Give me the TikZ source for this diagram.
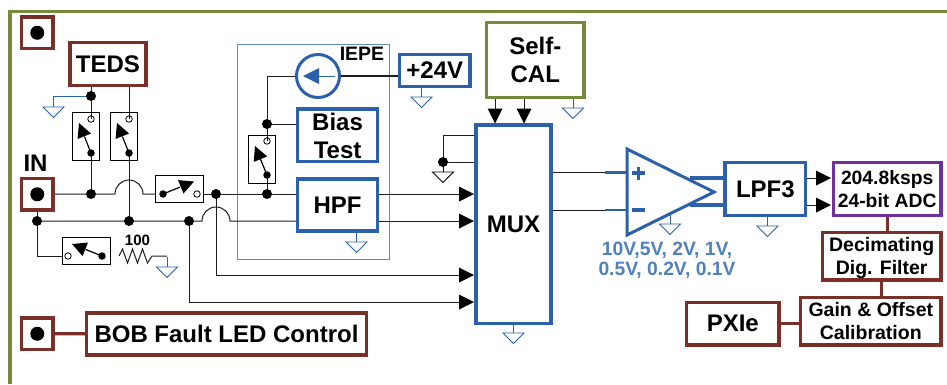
\documentclass[tikz,border=0pt]{standalone}
\usepackage{fontspec}
\setmainfont{Liberation Sans}
\usetikzlibrary{calc}
\definecolor{cbrown}{RGB}{122,48,40}
\definecolor{cblue}{RGB}{43,97,170}
\definecolor{cgreen}{RGB}{118,138,60}
\definecolor{cpurple}{RGB}{112,48,160}
\definecolor{clabel}{RGB}{79,129,189}
\definecolor{cwire}{RGB}{30,30,30}
\tikzset{
 x=1pt,y=-1pt,
 wire/.style={draw=cwire,line width=1pt},
 blk/.style={rectangle,draw,line width=3.2pt,fill=white,inner sep=0pt,outer sep=0pt,font=\bfseries,align=center,anchor=north west},
 brownblk/.style={blk,draw=cbrown},
 blueblk/.style={blk,draw=cblue},
 swbox/.style={rectangle,draw=black,line width=.9pt,fill=white,inner sep=0pt,outer sep=0pt,anchor=north west},
 dotn/.style={circle,fill=black,inner sep=0pt,minimum size=10pt},
 smalldot/.style={circle,fill=black,inner sep=0pt,minimum size=7.5pt},
 opendot/.style={circle,draw=black,line width=.8pt,fill=none,inner sep=0pt,minimum size=6.5pt},
 conndot/.style={circle,fill=black,inner sep=0pt,minimum size=14pt},
 txt/.style={inner sep=0pt,font=\bfseries,align=center},
}
\newcommand{\gnd}[3][cblue]{%
 \draw[draw=#1,line width=.9pt,fill=white] (#2,#3)++(0,10) -- ++(-10.5,0) -- ++(10.5,10.5) -- ++(10.5,-10.5) -- cycle;
 \draw[draw=#1,line width=.9pt] (#2,#3) -- ++(0,10);}
\newcommand{\needle}[4]{%
 \draw[black,line width=1.2pt] (#1,#2) -- ($(#1,#2)!.55!(#3,#4)$);
 \fill[black] (#3,#4) -- ($(#3,#4)!1!-27:($(#3,#4)!16pt!(#1,#2)$)$) -- ($(#3,#4)!1!27:($(#3,#4)!16pt!(#1,#2)$)$) -- cycle;}
\newcommand{\harrow}[2]{\fill[black] (#1,#2) -- ++(-15,-7.5) -- ++(0,15) -- cycle;}
\newcommand{\varrow}[2]{\fill[black] (#1,#2) -- ++(-7.5,-15) -- ++(15,0) -- cycle;}
\begin{document}
\begin{tikzpicture}
\useasboundingbox (0,0) rectangle (947,384);
\fill[white] (0,0) rectangle (947,384);
% outer frame
\coordinate (f1) at (10,384);
\coordinate (f2) at (10,11.5);
\coordinate (f3) at (947,11.5);
\draw[cgreen,line width=3.2pt] (f1) -- (f2) -- (f3);
% IEPE frame
\draw[cblue!75!white,line width=1pt] (237.5,44) rectangle (389,259);
\node[txt,font=\bfseries\fontsize{19.5}{19.5}\selectfont] (iepe) at (362,54) {IEPE};
% wires
\draw[wire] (91,85) -- (91,194);
\draw[wire] (129,85) -- (129,221);
\draw[wire] (54,194) -- (115,194) arc[start angle=180,end angle=360,radius=14] -- (155,194);
\draw[wire] (203,194) -- (296,194);
\draw[wire] (37,211) -- (37,256) -- (62,256);
\draw[wire] (37,221) -- (202,221) arc[start angle=180,end angle=360,radius=14] -- (296,221);
\draw[wire] (216,194) -- (216,275) -- (465,275);
\draw[wire] (189,221) -- (189,302) -- (465,302);
\draw[wire] (378,194) -- (465,194);
\draw[wire] (378,221) -- (465,221);
\draw[draw=cblue,line width=.9pt] (91,96) -- (53.5,96) -- (53.5,107);
\draw[wire] (297,76) -- (267,76) -- (267,194);
\draw[wire] (267,124) -- (296,124);
\draw[wire,line width=1.4pt] (339,76) -- (400,76);
\draw[wire] (475,135) -- (443,135) -- (443,162) -- (475,162);
\draw[wire] (552,172.5) -- (606,172.5);
\draw[wire] (552,210) -- (606,210);
\draw[wire] (495,98) -- (495,110);
\draw[wire] (524,98) -- (524,110);
\draw[wire] (804,178) -- (818,178);
\draw[wire] (804,205) -- (818,205);
% grounds
\gnd{53.5}{97}
\gnd{167}{257}
\draw[draw=cwire,line width=1pt] (119,256) -- (122.5,249) -- (127.5,263) -- (132.5,249) -- (137.5,263) -- (142.5,249) -- (147.5,263) -- (152,256) -- (167,256);
\gnd{356.5}{232}
\gnd{421.5}{87}
\gnd[black]{443}{162}
\gnd{513.5}{323}
\gnd{573}{98}
\gnd{670}{214}
\gnd{767.5}{216}
% connectors
\node[brownblk,minimum width=31.5pt,minimum height=31.5pt] (c1) at (21.5,17) {};
\node[conndot] at (c1.center) {};
\node[brownblk,minimum width=31.5pt,minimum height=31.5pt] (c2) at (21.5,178.5) {};
\node[conndot] at (c2.center) {};
\node[brownblk,minimum width=31.5pt,minimum height=31.5pt] (c3) at (21.5,318) {};
\node[conndot] at (c3.center) {};
\node[txt,font=\bfseries\fontsize{24}{24}\selectfont] (in) at (35.5,163) {IN};
\node[brownblk,font=\bfseries\fontsize{24}{24}\selectfont,minimum width=76pt,minimum height=43pt] (teds) at (70,42.5) {TEDS};
\node[brownblk,font=\bfseries\fontsize{24}{24}\selectfont,minimum width=280pt,minimum height=42pt] (bob) at (86.5,313) {BOB Fault LED Control};
\draw[cbrown,line width=3.2pt] (c3) -- (bob);
% switches
\node[swbox,minimum width=27pt,minimum height=48pt] (s1) at (72.5,112) {};
\node[swbox,minimum width=27pt,minimum height=48pt] (s2) at (110.5,112) {};
\node[swbox,minimum width=48pt,minimum height=27pt] (s3) at (155,175) {};
\node[swbox,minimum width=48pt,minimum height=27pt] (s4) at (62,237) {};
\node[swbox,minimum width=27pt,minimum height=48pt] (s5) at (248.5,135.5) {};
\draw[wire] (91,119) -- (91,112); \draw[wire] (129,119) -- (129,112);
\draw[wire] (91,153) -- (91,160); \draw[wire] (129,153) -- (129,160);
\draw[wire] (267,141) -- (267,135); \draw[wire] (267,175) -- (267,184);
\node[opendot] at (91,119) {}; \node[smalldot] at (91,153) {}; \needle{91}{153}{79}{123}
\node[opendot] at (129,119) {}; \node[smalldot] at (129,153) {}; \needle{129}{153}{117}{123}
\node[smalldot] at (163,194) {}; \node[opendot] at (197,194) {}; \needle{163}{194}{194}{181.5}
\node[opendot] at (68,256) {}; \node[smalldot] at (102,256) {}; \needle{102}{256}{72}{244}
\node[opendot] at (267,141) {}; \node[smalldot] at (267,175) {}; \needle{267}{175}{255}{146}
\node[txt,font=\bfseries\fontsize{15}{15}\selectfont] (r100) at (137.5,240.5) {100};
% junctions
\foreach \p in {(91,96),(91,194),(37,221),(129,221),(189,221),(216,194),(267,124),(267,194),(443,162)}
 \node[dotn] at \p {};
% iepe content
\node[circle,draw=cblue,line width=3pt,fill=white,minimum size=43pt,inner sep=0pt,outer sep=0pt] (src) at (318,76) {};
\draw[cblue,line width=1pt] (src.center) ++(-3,0) -- (335,76);
\fill[cblue] (303,76) -- (319,68) -- (319,84) -- cycle;
\node[blueblk,font=\bfseries\fontsize{24}{28}\selectfont,minimum width=80.5pt,minimum height=52.7pt] (bias) at (297.3,109) {\rule{0pt}{19pt}Bias\\Test};
\node[blueblk,font=\bfseries\fontsize{24}{24}\selectfont,minimum width=80.5pt,minimum height=52pt] (hpf) at (297.3,179) {HPF};
\node[blueblk,font=\bfseries\fontsize{24}{24}\selectfont,minimum width=70.5pt,minimum height=32pt] (p24) at (399.5,54.5) {+24V};
% mux
\node[blueblk,font=\bfseries\fontsize{24}{24}\selectfont,minimum width=75pt,minimum height=198.4pt] (mux) at (476,125) {MUX};
\node[blk,draw=cgreen,font=\bfseries\fontsize{24}{28}\selectfont,minimum width=97.5pt,minimum height=75.2pt] (cal) at (486.5,22.3) {Self-\\CAL};
\harrow{474}{194}\harrow{474}{221}\harrow{474}{275}\harrow{474}{302}
\varrow{495}{123.5}\varrow{524}{123.5}
% amp
\draw[cblue,line width=2.8pt] (605,172.5) -- (627,172.5);
\draw[cblue,line width=2.8pt] (605,210) -- (627,210);
\draw[cblue,line width=3.2pt] (690,178) -- (724,178);
\draw[cblue,line width=3.2pt] (690,205) -- (724,205);
\draw[cblue,line width=3pt,fill=white,line join=miter] (627,149) -- (714,192) -- (627,235) -- cycle;
\draw[cblue,line width=3.2pt] (632,173) -- (645,173) (638.5,166.5) -- (638.5,179.5);
\draw[cblue,line width=3.2pt] (632,210) -- (645,210);
\node[txt,text=clabel,font=\bfseries\fontsize{19.3}{20.5}\selectfont] (range) at (667,260) {10V,5V, 2V, 1V,\\0.5V, 0.2V, 0.1V};
% right chain
\node[blueblk,font=\bfseries\fontsize{24}{24}\selectfont,minimum width=80.7pt,minimum height=53.4pt] (lpf) at (725,162.3) {LPF3};
\node[blk,draw=cpurple,font=\bfseries\fontsize{19.3}{23}\selectfont,minimum width=107.7pt,minimum height=53.4pt] (adc) at (833.3,162.3) {204.8ksps\\24-bit ADC};
\harrow{831}{178}\harrow{831}{205}
\node[brownblk,font=\bfseries\fontsize{19.5}{23}\selectfont,minimum width=118.7pt,minimum height=47.7pt] (dec) at (822.3,232.3) {\rule{0pt}{18pt}Decimating\\Dig. Filter};
\node[brownblk,font=\bfseries\fontsize{19.5}{22.5}\selectfont,minimum width=140.4pt,minimum height=47.7pt] (cali) at (800.6,297.3) {Gain \& Offset\\Calibration};
\node[brownblk,font=\bfseries\fontsize{24}{24}\selectfont,minimum width=92.4pt,minimum height=42.7pt] (pxie) at (686.6,302.3) {PXIe};
\draw[cbrown,line width=3pt] (887,217) -- (887,231);
\draw[cbrown,line width=3pt] (881,281) -- (881,296);
\draw[cbrown,line width=3pt] (pxie.east) -- (pxie.east -| cali.west);
\end{tikzpicture}
\end{document}
